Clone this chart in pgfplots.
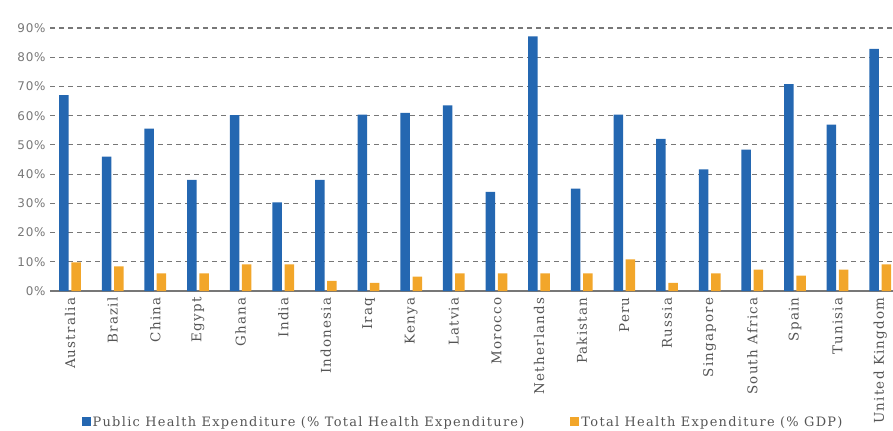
\documentclass[border=0pt]{standalone}
\usepackage{pgfplots}
\pgfplotsset{compat=1.18}
\usepackage{fontspec}
\setmainfont{DejaVu Serif}
\newfontfamily\tickfont[LetterSpace=6]{DejaVu Sans}
\newfontfamily\labfont[LetterSpace=9]{DejaVu Serif}
\newfontfamily\legfont[LetterSpace=10]{DejaVu Serif}
\definecolor{pubblue}{HTML}{2467B1}
\definecolor{totorange}{HTML}{F2A62A}
\definecolor{gridgrey}{HTML}{777777}
\definecolor{labgrey}{HTML}{555555}
\begin{document}
\begin{tikzpicture}[x=1bp,y=1bp]
\useasboundingbox (0,0) rectangle (893,430);
\begin{axis}[
  at={(50bp,139bp)}, anchor=south west,
  scale only axis, width=843bp, height=263bp,
  xmin=-0.47, xmax=19.3, ymin=0, ymax=90,
  ybar, bar width=9.5bp,
  axis x line*=bottom, axis y line*=left,
  y axis line style={draw=none},
  x axis line style={draw=gridgrey, line width=1.6bp},
  major tick length=0pt,
  ytick={0,10,...,90},
  yticklabel={\pgfmathprintnumber{\tick}\%},
  yticklabel style={font=\tickfont\fontsize{12}{13}\selectfont, text=gridgrey, xshift=-1bp},
  /pgf/number format/assume math mode=true,
  ymajorgrids,
  major grid style={draw=gridgrey, line width=1.1bp, dash pattern=on 5bp off 4bp},
  xtick=data,
  xticklabels={Australia,Brazil,China,Egypt,Ghana,India,Indonesia,Iraq,Kenya,Latvia,Morocco,Netherlands,Pakistan,Peru,Russia,Singapore,South Africa,Spain,Tunisia,United Kingdom},
  xticklabel style={rotate=90, anchor=east, font=\labfont\fontsize{13.5}{15}\selectfont, text=labgrey, yshift=0bp, xshift=0bp},
  xticklabel shift=3bp,
  legend style={at={(0.49,-0.498)}, anchor=center, draw=none, fill=none,
    legend columns=2, font=\legfont\fontsize{13}{15}\selectfont, text=labgrey,
    /tikz/every even column/.append style={column sep=44bp}},
  legend image code/.code={\fill[#1] (0bp,-4.5bp) rectangle (9bp,4.5bp);},
]
\addplot[fill=pubblue, draw=none, bar shift=-6.1bp] coordinates {
(0,67.0) (1,46.0) (2,55.6) (3,38.0) (4,60.2) (5,30.3) (6,38.0) (7,60.4) (8,61.0) (9,63.5)
(10,33.9) (11,87.1) (12,35.0) (13,60.4) (14,52.1) (15,41.6) (16,48.4) (17,70.8) (18,56.9) (19,82.9)};
\addplot[fill=totorange, draw=none, bar shift=6.1bp] coordinates {
(0,9.8) (1,8.4) (2,6.0) (3,6.0) (4,9.1) (5,9.1) (6,3.5) (7,2.8) (8,4.9) (9,6.0)
(10,6.0) (11,6.0) (12,6.0) (13,10.8) (14,2.8) (15,6.0) (16,7.3) (17,5.3) (18,7.3) (19,9.1)};
\legend{Public Health Expenditure (\% Total Health Expenditure), Total Health Expenditure (\% GDP)}
\end{axis}
\end{tikzpicture}
\end{document}
